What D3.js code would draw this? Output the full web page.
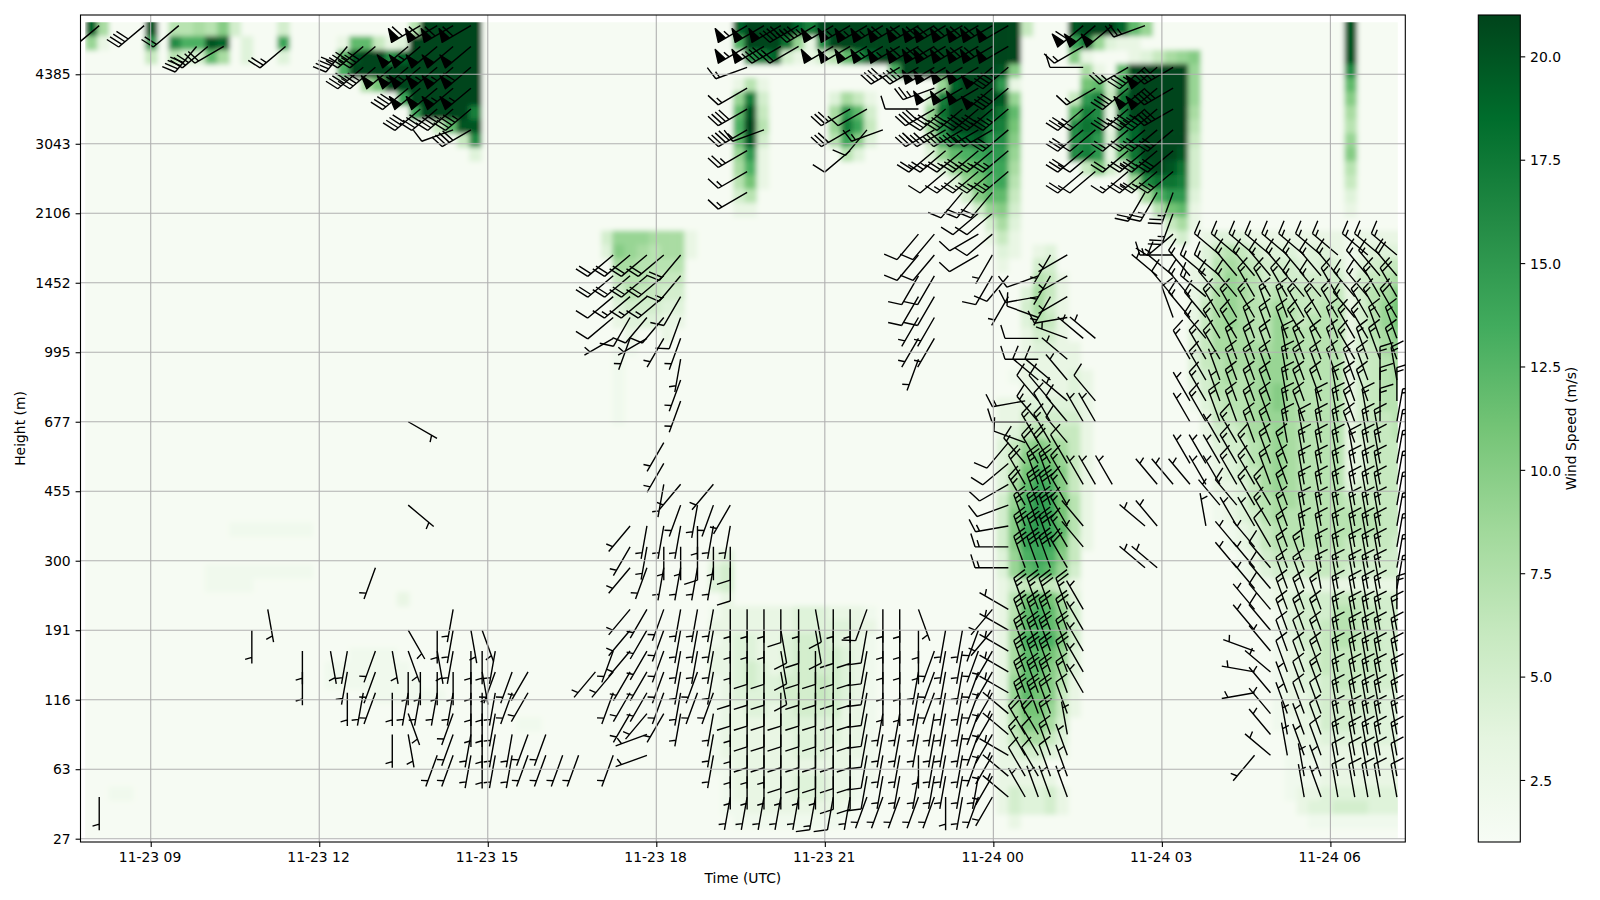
<!DOCTYPE html>
<html>
<head>
<meta charset="utf-8">
<script src="https://cdn.jsdelivr.net/npm/d3@7"></script>
<style>
	body { margin: 0; background: #fff; }
	text { font-family: "DejaVu Sans", sans-serif; font-size: 13.9px; fill: #000; }
</style>
</head>
<body>
<script>
//tick labels and colors
var heightLabels = ["27", "63", "116", "191", "300", "455", "677", "995", "1452", "2106", "3043", "4385"];
var heightTicks = [0, 10, 20, 30, 40, 50, 60, 70, 80, 90, 100, 110];
var timeTicks = [540, 720, 900, 1080, 1260, 1440, 1620, 1800]; //minutes after 11-23 00:00
var speedTicks = [2.5, 5, 7.5, 10, 12.5, 15, 17.5, 20];
var greens = ["#f7fcf5", "#e5f5e0", "#c7e9c0", "#a1d99b", "#74c476", "#41ab5d", "#238b45", "#006d2c", "#00441b"];

//heights (mesh index) the barbs sit on
var barbLevels = [6, 9, 12, 15, 18, 21, 24, 27, 30, 33, 36, 39, 42, 45, 48, 51, 54, 57, 60, 63, 66, 69, 72, 75, 78, 81, 84, 87, 90, 93, 96, 99, 102, 105, 108, 111, 114, 117];

//wind speed mesh, 1 char per cell in m/s (base 36), "." is calm
//[row from the top, first column, values]
var speedRuns = [
	[0,0,"j8"],[0,5,"k"],[0,7,"7787a5"],[0,16,"5"],[0,27,"7lllll"],[0,54,"jlllljhlllllllllllllllll6"],[0,82,"kllljc9"],[0,105,"k"],
	[1,0,"93"],[1,5,"f"],[1,7,"gddkj"],[1,13,"4"],[1,16,"e"],[1,21,"3cc634llllll"],[1,54,"dllli93gllllllllllllllll"],[1,82,"ei9433"],[1,105,"k"],
	[2,5,"6"],[2,7,"755c8"],[2,13,"4"],[2,16,"4"],[2,21,"ckllgjllllll"],[2,55,"ghj53357cgjllllllllllll"],[2,82,"a3"],[2,87,"34689a"],[2,105,"k"],
	[3,21,"dlllllllllll"],[3,67,"dllllllllka"],[3,83,"83"],[3,86,"clllll9"],[3,105,"g"],
	[4,23,"8bllllllll"],[4,54,"373"],[4,71,"9jlllf3"],[4,83,"bc5elllll9"],[4,105,"c"],
	[5,26,"ellllll"],[5,54,"9h5"],[5,62,"4863"],[5,70,"5hllllk9"],[5,82,"6fh6illlll9"],[5,105,"a"],
	[6,27,"ellllh"],[6,54,"ck6"],[6,62,"8fc5"],[6,70,"9illlkic"],[6,82,"chg3hlllll8"],[6,105,"8"],
	[7,29,"6ckk"],[7,54,"dl7"],[7,62,"9he6"],[7,70,"9glllihb"],[7,82,"gih3gjllll7"],[7,105,"7"],
	[8,31,"6g"],[8,54,"ck5"],[8,62,"7ea4"],[8,70,"6eijkgga"],[8,82,"ghf4fjllll6"],[8,105,"9"],
	[9,32,"4"],[9,54,"9f3"],[9,63,"74"],[9,70,"49cdeff9"],[9,82,"ghf3cilllk5"],[9,105,"a"],
	[10,54,"8d3"],[10,71,"49bcee8"],[10,83,"6a53fklki5"],[10,105,"7"],
	[11,54,"7b3"],[11,72,"49bde7"],[11,87,"8giih5"],[11,105,"6"],
	[12,54,"57"],[12,73,"5acc6"],[12,88,"8dff4"],[12,105,"4"],
	[13,54,"33"],[13,74,"59a5"],[13,89,"7bc3"],[13,105,"3"],
	[14,75,"584"],[14,90,"683"],
	[15,43,"59998883"],[15,75,"363"],[15,90,"35"],[15,92,".34443333333323333"],
	[16,43,"4a987883"],[16,76,"43"],[16,79,"34"],[16,92,".46765444344323444"],
	[17,44,"887777"],[17,76,"3"],[17,79,"55"],[17,92,"347876555445424566"],
	[18,44,"677666"],[18,79,"763"],[18,92,"347987565555535678"],
	[19,44,"576655"],[19,78,"4863"],[19,92,"35898767666663578a"],
	[20,44,"455544"],[20,78,"5853"],[20,92,"36898778766773579b"],
	[21,44,"344433"],[21,78,"4763"],[21,92,"36898779767773579b"],
	[22,45,"3"],[22,48,"3"],[22,78,"3553"],[22,92,"46888779877773578a"],
	[23,44,"22"],[23,78,"34433"],[23,92,"468888898777735689"],
	[24,44,"2"],[24,78,"33333"],[24,92,"467888998777735678"],
	[25,44,"2"],[25,77,"2333343"],[25,92,"457878998777735678"],
	[26,44,"2"],[26,78,"333343"],[26,92,"3577789a8777735677"],
	[27,44,"2"],[27,76,"33444443"],[27,92,"2467789a8777735677"],
	[28,44,"2"],[28,76,"33565553"],[28,92,".36678998777735667"],
	[29,76,"34676663"],[29,92,".35568898777735667"],
	[30,76,"469a9863"],[30,92,".24557898777734666"],
	[31,76,"46acb963"],[31,92,".23457898777734666"],
	[32,76,"47bdca63"],[32,92,"..3456898777734666"],
	[33,76,"48ceda63"],[33,92,"..3346898777745666"],
	[34,76,"59dfeb73"],[34,92,"..2346788777766666"],
	[35,76,"5adfeb73"],[35,92,"..2345787777777766"],
	[36,12,"2222222"],[36,76,"5aefec73"],[36,92,"...234677777777766"],
	[37,76,"5aeeeb63"],[37,92,"...234677777766665"],
	[38,52,"34"],[38,76,"49deda6"],[38,92,"....23566666666555"],
	[39,10,"222222222"],[39,52,"45"],[39,76,"49cdc95"],[39,92,"....23455566655555"],
	[40,10,"2222"],[40,52,"45"],[40,76,"3566653"],[40,92,".....2233333333333"],
	[41,26,"3"],[41,53,"3"],[41,76,"37bcb84"],[41,92,"......234555666555"],
	[42,52,"23333334443332"],[42,76,"37cdc95"],[42,92,".......24555776655"],
	[43,52,"33333334444433"],[43,76,"38cdca5"],[43,92,".......24556776655"],
	[44,52,"23443345554332"],[44,76,"38ddda5"],[44,92,".......23556776655"],
	[45,22,"2222"],[45,52,"33443345555432"],[45,76,"38ccb94"],[45,92,".......23456666655"],
	[46,20,"2222222"],[46,52,"33454345555432"],[46,76,"38cca84"],[46,92,".......23456666655"],
	[47,20,"22222222"],[47,52,"23454455565432"],[47,76,"39cba73"],[47,92,".......23445665555"],
	[48,24,"222222"],[48,52,"23444455565432"],[48,76,"39cba63"],[48,92,".......23345555544"],
	[49,52,"23344345555332"],[49,76,"38bb963"],[49,92,".......23345555544"],
	[50,36,"22"],[50,52,"23333344444332"],[50,76,"37aa85"],[50,92,".......22335554444"],
	[51,52,"23333334444332"],[51,76,"368864"],[51,92,"........2334444444"],
	[52,52,"23333334443332"],[52,76,"345543"],[52,92,"........2233333333"],
	[53,52,"22333333333322"],[53,76,"3333"],[53,92,"........2223333333"],
	[54,53,"2333334443322"],[54,76,"33333"],[54,92,"........2223333333"],
	[55,2,"22"],[55,53,"233333444332"],[55,76,"354453"],[55,100,"2334444444"],
	[56,53,"22333333332"],[56,76,"354453"],[56,101,"344555444"],
	[57,54,"222222222"],[57,77,"3"],[57,102,"22222222"]
];

//mesh column timing, minutes after 11-23 00:00
var meshStart = 470.3;
var meshStep = 12.81;
var meshEnd = 1872.3;

//barbs: [time in minutes, first level index, pairs of from-direction (x10 deg, base 36) and speed (x5 kt, base 36)]
//".." leaves a level empty
var barbRuns = [
	[485,0,"i1"],[485,37,"n6"],[533,37,"n8"],[570,37,"n4"],[589,36,"m8"],[601,36,"n6"],[618,36,"o4"],
	[648,8,"i1"],[665,9,"h1"],[684,36,"n5"],[702,6,"i1i1"],[732,7,"h1"],
	[750,5,"i1j1j1"],[750,36,"m8"],[767,5,"j1"],[767,35,"n8n8"],
	[780,5,"k1k1k1"],[780,11,"k1"],[780,35,"n8n8"],
	[798,3,"i1..i1..h1"],[798,35,"na"],
	[815,3,"h1g1j1i1g1f1"],[815,14,"d1"],[815,18,"c1"],[815,34,"n8nbna"],
	[828,5,"j1i1"],[828,33,"n8nanbnboc"],
	[846,2,"k1....j1i1h1i1"],[846,33,"n8nanbnaoc"],
	[863,2,"k1k1k1j1i1j1j1j1"],[863,32,"p2n9nbnbnaoc"],
	[882,2,"j1j1i1i1i1i1h1"],[882,32,"o8n9nbncnaoc"],
	[894,2,"i1i1i1i1h1i1g1"],[908,2,"j1j1j1j1k1j1"],
	[926,2,"j1j1..k1k1"],[943,2,"k1k1..l1l1"],[962,2,"k1k1"],[980,2,"k1"],[997,2,"k1"],[1015,6,"m1"],
	[1034,2,"k1....k1m1k1"],[1034,22,"o1n2n2n4n4"],
	[1052,4,"l1l1l1m1m1m1"],[1052,11,"m1l1m1"],[1052,22,"k1l2n3n4n4"],
	[1070,2,"p1p1m1l1l1l1l1l1"],[1070,11,"k1j1j1"],[1070,22,"o1m2n3n4n4"],
	[1088,4,"l1k1k1k1k1k1"],[1088,11,"j1i1j1..j1l1l1"],[1088,22,"l1m2n3n4n4"],
	[1106,4,"j1j1j1j1j1j1"],[1106,11,"j1i1j1k1m1"],[1106,19,"k1k1j1k1k2l2m3m4"],
	[1124,5,"k1k1j1j1j1"],[1124,11,"j1i2i1j1"],
	[1141,2,"j1j1j1k1j1j1j1j1"],[1141,11,"j1i1j1k1m1"],
	[1159,0,"j1i1i1i1i1i2i2i1i1i1"],[1159,11,"i2i2j1l1"],
	[1177,0,"j1i1i1i2i2i2i2i2i1i1"],[1177,29,"o3o3o5o9o8o3p3obob"],
	[1195,0,"j1i1i1i2i2i2i2i2i1i1"],[1195,32,"p2"],[1195,36,"oaoa"],
	[1213,0,"j1i1i2i2i2i2h2h2h2i2"],[1213,36,"o9oa"],
	[1232,0,"j1i1i2i2i2i2i2i2i2i1"],[1232,36,"o4o9"],
	[1250,0,"j3i1i2i2i2i2i2i2h2h2"],[1250,37,"o9"],
	[1269,0,"j2i2i2i2i2i2i2i2i2i1"],[1269,36,"oaoa"],
	[1287,0,"j1i2i2i2i2i2i2i2i2i1"],[1287,31,"n2o6o6....oaob"],
	[1305,0,"k1j2j2j2j2j2j2j2j2k2"],[1305,32,"m2o2....oaob"],
	[1322,0,"k1j1j1j1j1i1i1i1i1i1"],[1322,32,"p3......obob"],
	[1340,0,"k1j1j1j1j1i1i1i1i1i1"],[1340,35,"o8oboc"],
	[1360,0,"k1j1i1j1j1j1j1i1i1g1"],[1360,21,"k1l1l1l2l2m2m2"],[1360,33,"r2..o8ococ"],
	[1377,0,"k1j1j1j1j1k1k1k1"],[1377,22,"l1l1l2l2m2m2"],[1377,31,"n4o6o8p5oaococ"],
	[1389,0,"i1j1j1j1j1j1j1j1j1"],[1389,30,"n2n5o6n8oaoaococ"],
	[1407,0,"j1j1j1j1j1j1j1j1j1"],[1407,29,"m2n3n5o6n8oaoaococ"],
	[1424,0,"k1j1k1k1k1k1k1k1k1"],[1424,26,"o2o2n2m4n4n6o6n8oaoaococ"],
	[1439,0,"l1l1l1l1l1l1l1l1m1m1"],[1439,25,"l2l1n2n2m4n5n5o5n8nanaococ"],
	[1456,0,"v1v1u1v1v1u1u1u1u1u1..r3r3q3p2o2n2m2"],[1456,24,"l1m2"],[1456,30,"n5n5n6n7n8n9oaoa"],
	[1474,0,"x1x2x3x4y5y5y5y5y5y5..y6y6y5x5x4w3t2r2q3"],
	[1488,0,"y1x2x2x4y5y5y5y5y5y5..y6y6y6y6y5x4x3w3w2v2r2r2t2q2p2"],
	[1501,0,"y1y2y3y4y4y5y5y5y5y6..y6y6y6y6y5x4x3x2w2v2"],[1501,24,"l1l1l1"],
	[1519,0,"y1y1y1z1y2y3y4y4y4y5..x4x3x3x3x3x2w2w2v1w1v1t1q2o1o1o1"],
	[1536,5,"x1x1x1x1x1"],[1536,12,"w1w1..x1"],[1536,18,"x1"],[1536,22,"v1"],[1536,30,"n4n6n6n7..r2o3nc"],
	[1549,15,"x1"],[1549,18,"x1w2"],[1549,22,"v1"],[1549,30,"n2n2n2n3o3"],[1549,37,"na"],
	[1567,15,"x1"],[1567,37,"na"],
	[1584,30,"n3n4n4n7n8o5"],
	[1602,11,"v1..v1"],[1602,29,"l4n5n5n4n8nan7..p5"],
	[1615,11,"v1..w1..w1"],[1615,25,"v1"],[1615,29,"l5n5n6n6n8nana"],
	[1632,15,"w1"],[1632,23,"y2w2v2r3n3k5k5n5n6n6o8o8o8"],
	[1650,15,"w1x1..x1x1..x3..w3w3w3"],
	[1667,13,"z1..x1x1..x3x3x3x3w3w3v3v3"],
	[1682,14,"w1x1x1x1y3y1y1x3x3x3w3v3v3"],
	[1700,11,"w1w1x1w3x3x3x3y3y3y3y3x3x3w3w3v3"],
	[1719,2,"m1"],[1719,5,"q1s1t1w1w1w1w1w1x1x3x3x3y3y3y3y3y3y3x3x3w3v3"],
	[1736,2,"v1w1w1w1v1w1w2w2w2w2x2x3x3y3y3y3y3y3y3y3y3y3x3w3v3"],
	[1754,2,"z1z1y1y1y2y2y3y3y3y3y3y3y3y3y3z3z3z3z3z3y3y3x3w3v3"],
	[1772,0,"z1z1y1y1y2y2y2y2y3y3y3y3z3z3z3z3z3z3y3y3y3y3x3x3w3w3v3"],
	[1790,0,"y1y1y2y2y2y3y3y3y3y3z3z3z3z3z3z3z3z3z3y3y3y3x3x3w3w3v3"],
	[1808,0,"z2z2z3z3z3z3z3z3z3z3z3z3z3z3z3z3z3z3z3z3y3y3y3x3x3w3v3"],
	[1826,0,"z2z2z3z3z3z3z3z3z3z3z3z3z3z3z3z3z3y3y3y3y3x3x3w3w3"],
	[1840,0,"z2z2z3z3z3z3z3z3z3z3z3z3z3z3z3z3z3z3z3y3y3y3x3x3w3w3v3"],
	[1853,0,"z2z2z3z3z3z3z3z3z3z3z3z3z3z3z3z3z3z3030303y3y3x3x3w3v3"],
	[1871,0,"z2z2z3z3z3z3z3z3z3031313131313131313130" + "3z3y3y3x4x4w4v3"]
];

//set up the plot area
var width = 1600,
	height = 900;

var plotLeft = 80.5,
	plotRight = 1405.3,
	plotTop = 15,
	plotBottom = 842;

var barLeft = 1478.3,
	barRight = 1520.3;

function toDate(minutes){
	return new Date(2024, 10, 23, 0, minutes);
}

var svg = d3.select("body").append("svg")
	.attr("width", width)
	.attr("height", height)
	.style("display", "block");

var xScale = d3.scaleTime()
	.domain([toDate(465.5), toDate(1880)])
	.range([plotLeft, plotRight]);

var yScale = d3.scaleLinear()
	.domain([-0.475, 118.53])
	.range([plotBottom, plotTop]);

var colorScale = d3.scaleLinear()
	.domain(greens.map(function(d, i){ return 1 + i * 20 / (greens.length - 1); }))
	.range(greens)
	.interpolate(d3.interpolateRgb);

var barScale = d3.scaleLinear()
	.domain([1, 21])
	.range([plotBottom, plotTop]);

//flatten the runs into cells
var cells = [];
speedRuns.forEach(function(run){
	run[2].split("").forEach(function(c, i){
		if (c != "."){
			cells.push({row: run[0], col: run[1] + i, speed: parseInt(c, 36)});
		}
	});
});

var defs = svg.append("defs");

defs.append("clipPath")
	.attr("id", "meshClip")
	.append("rect")
		.attr("x", xScale(toDate(meshStart)))
		.attr("y", yScale(117.5))
		.attr("width", xScale(toDate(meshEnd)) - xScale(toDate(meshStart)))
		.attr("height", yScale(0) - yScale(117.5));

var blur = defs.append("filter")
	.attr("id", "soft")
	.attr("filterUnits", "userSpaceOnUse")
	.attr("x", 0).attr("y", 0)
	.attr("width", width).attr("height", height);
blur.append("feGaussianBlur").attr("stdDeviation", 2.6);

var gradient = defs.append("linearGradient")
	.attr("id", "barGradient")
	.attr("x1", 0).attr("x2", 0)
	.attr("y1", 1).attr("y2", 0);
greens.forEach(function(c, i){
	gradient.append("stop")
		.attr("offset", i / (greens.length - 1))
		.attr("stop-color", c);
});

defs.append("clipPath")
	.attr("id", "plotClip")
	.append("rect")
		.attr("x", plotLeft)
		.attr("y", plotTop)
		.attr("width", plotRight - plotLeft)
		.attr("height", plotBottom - plotTop);

//wind speed mesh
var mesh = svg.append("g")
	.attr("clip-path", "url(#meshClip)")
	.append("g")
		.attr("filter", "url(#soft)");

mesh.append("rect")
	.attr("x", plotLeft - 30)
	.attr("y", plotTop - 30)
	.attr("width", plotRight - plotLeft + 60)
	.attr("height", plotBottom - plotTop + 60)
	.attr("fill", colorScale(1.2));

mesh.selectAll(".cell")
	.data(cells)
	.enter()
	.append("rect")
		.attr("class", "cell")
		.attr("x", function(d){
			return xScale(toDate(meshStart + d.col * meshStep));
		})
		.attr("y", function(d){
			//top row runs past the clip so the blur keeps its edge
			return yScale(117.5 - 2 * d.row) - (d.row == 0 ? 14 : 0);
		})
		.attr("width", function(d){
			return xScale(toDate(meshStart + (d.col + 1) * meshStep)) - xScale(toDate(meshStart + d.col * meshStep)) + 0.5;
		})
		.attr("height", function(d){
			return yScale(115.5 - 2 * d.row) - yScale(117.5 - 2 * d.row) + 0.5 + (d.row == 0 ? 14 : 0);
		})
		.attr("fill", function(d){
			return colorScale(d.speed);
		});

//flatten the barb runs
var barbs = [];
barbRuns.forEach(function(run){
	for (var i = 0; i * 2 < run[2].length; i++){
		var pair = run[2].substr(i * 2, 2);
		if (pair != ".."){
			barbs.push({
				time: run[0],
				level: barbLevels[run[1] + i],
				dir: parseInt(pair[0], 36) * 10,
				knots: parseInt(pair[1], 36) * 5
			});
		}
	}
});

//same proportions as a matplotlib barb, pivot at the tip
var shaft = 33.3,
	barbHeight = shaft * 0.4,
	barbWidth = shaft * 0.25,
	barbGap = shaft * 0.125;

function barbPath(d){
	var a = d.dir * Math.PI / 180;
	var tx = Math.sin(a), ty = -Math.cos(a);
	var px = -ty, py = tx;
	function pt(along, side){
		return (tx * along + px * side).toFixed(1) + "," + (ty * along + py * side).toFixed(1);
	}
	var path = "M0,0L" + pt(shaft, 0);
	var left = Math.round(d.knots / 5);
	var flags = Math.floor(left / 10);
	var fulls = Math.floor((left - flags * 10) / 2);
	var half = left - flags * 10 - fulls * 2;
	var offset = shaft;
	var i;
	for (i = 0; i < flags; i++){
		path += "M" + pt(offset, 0) + "L" + pt(offset - barbWidth / 2, barbHeight) + "L" + pt(offset - barbWidth, 0) + "Z";
		offset -= barbWidth + barbGap;
	}
	for (i = 0; i < fulls; i++){
		path += "M" + pt(offset, 0) + "L" + pt(offset + barbWidth / 2, barbHeight);
		offset -= barbGap;
	}
	if (half){
		if (flags == 0 && fulls == 0){
			offset -= 1.5 * barbGap;
		}
		path += "M" + pt(offset, 0) + "L" + pt(offset + barbWidth / 4, barbHeight / 2);
	}
	return path;
}

svg.append("g")
	.attr("clip-path", "url(#plotClip)")
	.selectAll("path")
	.data(barbs)
	.enter()
	.append("path")
		.attr("transform", function(d){
			return "translate(" + xScale(toDate(d.time)) + "," + yScale(d.level) + ")";
		})
		.attr("d", barbPath)
		.attr("fill", "#000")
		.attr("stroke", "#000")
		.attr("stroke-width", 1.4)
		.attr("stroke-linejoin", "round");

//grid goes over the mesh and the barbs
var grid = svg.append("g");

grid.selectAll(".vgrid")
	.data(timeTicks)
	.enter()
	.append("line")
		.attr("class", "vgrid")
		.attr("x1", function(d){ return xScale(toDate(d)); })
		.attr("x2", function(d){ return xScale(toDate(d)); })
		.attr("y1", plotTop)
		.attr("y2", plotBottom);

grid.selectAll(".hgrid")
	.data(heightTicks)
	.enter()
	.append("line")
		.attr("class", "hgrid")
		.attr("x1", plotLeft)
		.attr("x2", plotRight)
		.attr("y1", function(d){ return yScale(d); })
		.attr("y2", function(d){ return yScale(d); });

grid.selectAll("line")
	.attr("stroke", "#b0b0b0")
	.attr("stroke-width", 1.1);

//axes
var xAxis = d3.axisBottom(xScale)
	.tickValues(timeTicks.map(toDate))
	.tickFormat(d3.timeFormat("%m-%d %H"))
	.tickSizeOuter(0)
	.tickSize(4.9)
	.tickPadding(4.9);

var yAxis = d3.axisLeft(yScale)
	.tickValues(heightTicks)
	.tickFormat(function(d, i){ return heightLabels[i]; })
	.tickSizeOuter(0)
	.tickSize(4.9)
	.tickPadding(4.9);

var barAxis = d3.axisRight(barScale)
	.tickValues(speedTicks)
	.tickFormat(d3.format(".1f"))
	.tickSizeOuter(0)
	.tickSize(4.9)
	.tickPadding(4.9);

var xAxisGroup = svg.append("g").attr("class", "axis").attr("transform", "translate(0," + plotBottom + ")").call(xAxis);
svg.append("g").attr("class", "axis").attr("transform", "translate(" + plotLeft + ",0)").call(yAxis);

//frame
svg.append("rect")
	.attr("x", plotLeft)
	.attr("y", plotTop)
	.attr("width", plotRight - plotLeft)
	.attr("height", plotBottom - plotTop)
	.attr("fill", "none")
	.attr("stroke", "#000")
	.attr("stroke-width", 1.1);

//colorbar
svg.append("rect")
	.attr("x", barLeft)
	.attr("y", plotTop)
	.attr("width", barRight - barLeft)
	.attr("height", plotBottom - plotTop)
	.attr("fill", "url(#barGradient)")
	.attr("stroke", "#000")
	.attr("stroke-width", 1.1);

var barAxisGroup = svg.append("g").attr("class", "axis").attr("transform", "translate(" + barRight + ",0)").call(barAxis);

svg.selectAll(".axis .domain").remove();
svg.selectAll(".axis line").attr("stroke", "#000").attr("stroke-width", 1.1);
svg.selectAll(".axis text").style("font-family", "'DejaVu Sans', sans-serif").style("font-size", "13.9px").attr("fill", "#000");
xAxisGroup.selectAll("text").attr("x", -1.2);
barAxisGroup.selectAll("text").attr("y", 0.7);

//labels
svg.append("text")
	.attr("x", (plotLeft + plotRight) / 2)
	.attr("y", 883)
	.attr("text-anchor", "middle")
	.text("Time (UTC)");

svg.append("text")
	.attr("transform", "translate(25,428.5) rotate(-90)")
	.attr("text-anchor", "middle")
	.text("Height (m)");

svg.append("text")
	.attr("transform", "translate(1576,428.5) rotate(-90)")
	.attr("text-anchor", "middle")
	.text("Wind Speed (m/s)");
</script>
</body>
</html>
